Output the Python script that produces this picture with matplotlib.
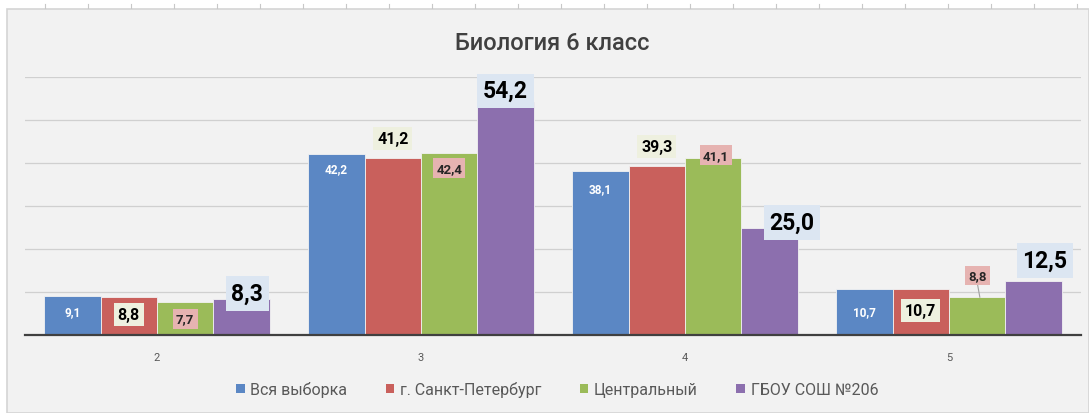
import numpy as np
import matplotlib
matplotlib.use('Agg')
import matplotlib.pyplot as plt
from matplotlib.patches import Rectangle

plt.rcParams['font.family'] = ['Roboto', 'DejaVu Sans']

categories = ['2', '3', '4', '5']
series = ['Вся выборка', 'г. Санкт-Петербург', 'Центральный', 'ГБОУ СОШ №206']
vsya = [9.1, 42.2, 38.1, 10.7]
spb = [8.8, 41.2, 39.3, 10.7]
central = [7.7, 42.4, 41.1, 8.8]
school = [8.3, 54.2, 25.0, 12.5]

colors = ['#5b87c4', '#c9605c', '#9bbb59', '#8c6fae']
# label look per series: text colour, box colour, size
label_style = [
	dict(color='white', box=None, size=8.5),
	dict(color='black', box='#eef0df', size=11.5),
	dict(color='#262626', box='#e6b3b1', size=9.5),
	dict(color='black', box='#dce6f2', size=16.5),
]
# where each label sits relative to its bar top (dx in bar widths, dy in value units)
label_offsets = [
	[(0, -3.7), (0, -3.4), (0, -4.0), (0, -5.3)],
	[(0, -4.1), (0, 4.6), (0, 4.6), (0, -5.1)],
	[(0, -4.0), (0, -3.6), (0.05, 0.7), (0, 5.0)],
	[(0.1, 1.3), (0, 2.6), (0.4, 1.2), (0.2, 4.8)],
]

values = [vsya, spb, central, school]

fig = plt.figure(figsize=(10.89, 4.14), dpi=100, facecolor='white')

# grey chart panel and the little ruler ticks above it
fig.patches.append(Rectangle((7/1089, 0), 1 - 7/1089, 404/414, transform=fig.transFigure,
	facecolor='#f2f2f2', edgecolor='#d4d4d4', lw=1.2, zorder=-10))
for xp in np.arange(45, 1089, 43):
	fig.add_artist(plt.Line2D([xp/1089, xp/1089], [1 - 5/414, 1 - 9/414], color='#c8c8c8', lw=0.8))

ax = fig.add_axes([25/1089, 1 - 336/414, (1081 - 25)/1089, (336 - 78)/414])
ax.set_facecolor('none')

x = np.arange(len(categories))
w = 0.2136
for i, (vals, col) in enumerate(zip(values, colors)):
	pos = x + (i - 1.5) * w
	ax.bar(pos, vals, width=w, color=col, edgecolor='#f2f2f2', lw=0.6, zorder=2)
	st = label_style[i]
	for j, v in enumerate(vals):
		dx, dy = label_offsets[i][j]
		txt = f'{v:.1f}'.replace('.', ',')
		bbox = None
		if st['box']:
			bbox = dict(boxstyle='square,pad=0.25', fc=st['box'], ec='none')
		ax.text(pos[j] + dx * w, v + dy, txt, ha='center', va='center', color=st['color'],
			fontsize=st['size'], fontweight='bold', bbox=bbox, zorder=4)
		if i == 2 and j == 3:
			ax.plot([pos[j], pos[j] + 0.01], [v + dy - 1.6, v], color='#a0a0a0', lw=0.8, zorder=3)

ax.set_xlim(-0.5, len(categories) - 0.5)
ax.set_ylim(0, 60)
ax.set_yticks(np.arange(0, 61, 10))
ax.set_yticklabels([])
ax.grid(axis='y', color='#d0d0d0', lw=0.9, zorder=0)
ax.tick_params(axis='y', length=0)
ax.set_xticks(x)
ax.set_xticklabels(categories, fontsize=8, color='#595959')
ax.tick_params(axis='x', length=0, pad=12)
for s in ['top', 'right', 'left']:
	ax.spines[s].set_visible(False)
ax.spines['bottom'].set_color('#404040')
ax.spines['bottom'].set_linewidth(1.6)
ax.spines['bottom'].set_zorder(5)

fig.text(552/1089, 1 - 43/414, 'Биология 6 класс', ha='center', va='center', fontsize=17,
	fontweight='medium', color='#404040')

handles = [Rectangle((0, 0), 1, 1, fc=c) for c in colors]
fig.legend(handles, series, loc='center', bbox_to_anchor=(557/1089, 1 - 390/414), ncol=4,
	frameon=False, fontsize=11.5, handlelength=0.55, handleheight=0.55, handletextpad=0.35,
	columnspacing=2.4, labelcolor='#595959')

fig.savefig('out.png', dpi=100, facecolor=fig.get_facecolor())
